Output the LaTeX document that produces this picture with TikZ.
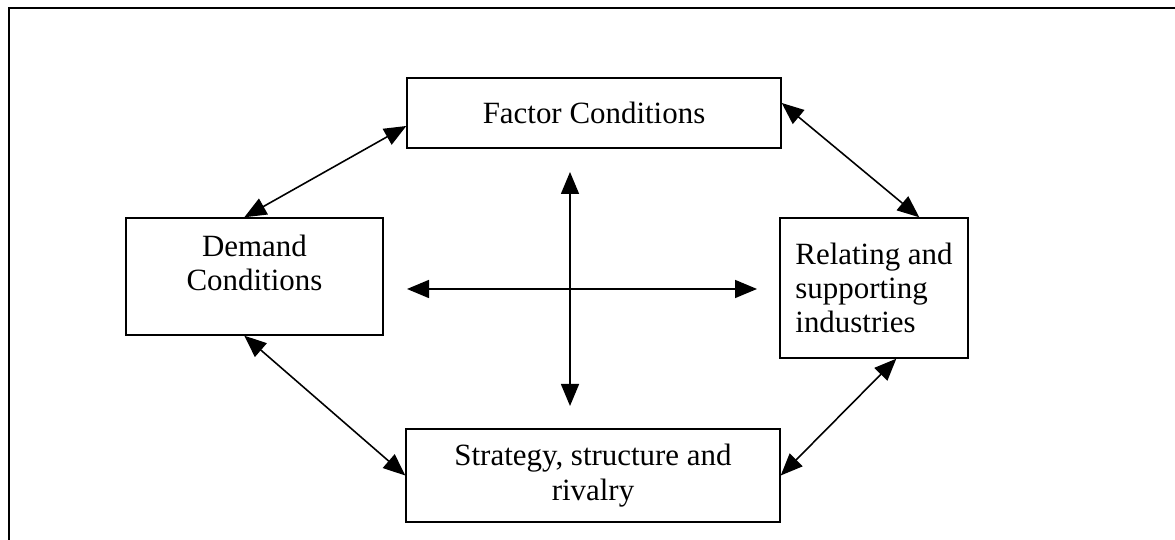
\documentclass[tikz,border=0pt]{standalone}
\usepackage{fontspec}
\setmainfont{Liberation Serif}
\usepackage{tikz}
\usetikzlibrary{arrows.meta,calc}

\tikzset{
  factorbox/.style={draw=black, line width=0.8pt, align=center,
    font=\fontsize{17.6}{19.5}\selectfont},
  linkarrow/.style={line width=0.9pt,
    {Triangle[length=0.44cm,width=0.36cm]}-{Triangle[length=0.44cm,width=0.36cm]}}
}

\begin{document}
\begin{tikzpicture}
    \clip (0,0) rectangle (23.5,10.8);
    \draw[line width=0.9pt] (0.18,-1) rectangle (24,10.64);

    \node[factorbox, minimum width=7.48cm, minimum height=1.4cm] (factor) at (11.88,8.54) {Factor Conditions};
    \node[factorbox, align=none, minimum width=5.14cm, minimum height=2.34cm] (demand) at (5.09,5.27)
      {\raisebox{0.2cm}[\height][\depth]{\begin{tabular}{@{}c@{}}Demand\\Conditions\end{tabular}}};
    \node[factorbox, align=left, minimum width=3.76cm, minimum height=2.8cm] (relating) at (17.48,5.04) {Relating and\\supporting\\industries};
    \node[factorbox, minimum width=7.48cm, minimum height=1.86cm] (strategy) at (11.86,1.29) {Strategy, structure and\\rivalry};

    \coordinate (cross west) at (8.14,5.02);
    \coordinate (cross east) at (15.14,5.02);
    \coordinate (cross north) at (11.4,7.36);
    \coordinate (cross south) at (11.4,2.68);

    \draw[linkarrow] ([xshift=2.38cm]demand.north west) -- ([yshift=-0.26cm]factor.west);
    \draw[linkarrow] ([yshift=0.2cm]factor.east) -- ([xshift=2.8cm]relating.north west);
    \draw[linkarrow] ([xshift=2.38cm]demand.south west) -- (strategy.west);
    \draw[linkarrow] (strategy.east) -- ([xshift=2.34cm]relating.south west);

    \draw[linkarrow] (cross west) -- (cross east);
    \draw[linkarrow] (cross north) -- (cross south);

      % \draw[help lines](0,0) grid (23.5,10.8);
  \end{tikzpicture}
\end{document}
